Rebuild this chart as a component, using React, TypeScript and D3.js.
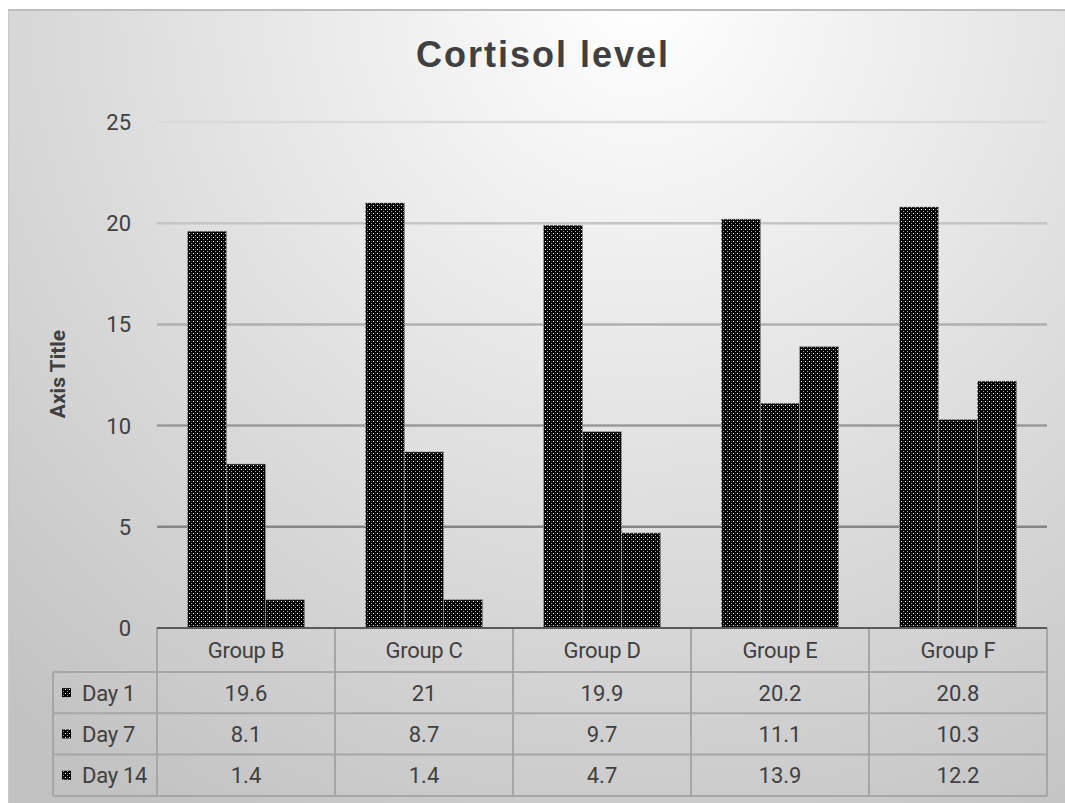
import { useEffect, useRef } from "react";
import * as d3 from "d3";

const groups = ["Group B", "Group C", "Group D", "Group E", "Group F"];
const series = ["Day 1", "Day 7", "Day 14"];
const day1 = [19.6, 21, 19.9, 20.2, 20.8];
const day7 = [8.1, 8.7, 9.7, 11.1, 10.3];
const day14 = [1.4, 1.4, 4.7, 13.9, 12.2];
const yTicks = [0, 5, 10, 15, 20, 25];

const W = 1065;
const H = 803;

const App = () => {
    const svgRef = useRef<SVGSVGElement>(null);

    useEffect(() => {
        if (!svgRef.current) return;
        const svg = d3.select(svgRef.current);
        svg.selectAll("*").remove();

        const values = [day1, day7, day14];
        const font = "Roboto, 'Liberation Sans', sans-serif";
        const textColor = "#404040";

        // plot area (page coords)
        const left = 157, right = 1047, top = 122, bottom = 628;
        const rowH = 41.3;
        const headerH = 44;

        const y = d3.scaleLinear().domain([0, 25]).range([bottom, top]);
        const x = d3.scaleBand().domain(groups).range([left, right]).padding(0);
        const inner = d3.scaleBand().domain(series).range([0, x.bandwidth()]).paddingInner(0).paddingOuter(0.78);

        const defs = svg.append("defs");

        // background gradient
        const bg = defs.append("radialGradient")
            .attr("id", "bg")
            .attr("gradientUnits", "userSpaceOnUse")
            .attr("cx", 640).attr("cy", 0).attr("r", 950);
        bg.append("stop").attr("offset", "0%").attr("stop-color", "#ffffff");
        bg.append("stop").attr("offset", "100%").attr("stop-color", "#c2c2c2");

        // gridline gradient
        const gg = defs.append("linearGradient")
            .attr("id", "grid")
            .attr("gradientUnits", "userSpaceOnUse")
            .attr("x1", 0).attr("x2", 0).attr("y1", top).attr("y2", bottom);
        gg.append("stop").attr("offset", "0%").attr("stop-color", "#dadada");
        gg.append("stop").attr("offset", "100%").attr("stop-color", "#707070");

        // bar pattern
        const pat = defs.append("pattern")
            .attr("id", "dots")
            .attr("patternUnits", "userSpaceOnUse")
            .attr("width", 4).attr("height", 4);
        pat.append("rect").attr("width", 4).attr("height", 4).attr("fill", "#000");
        pat.append("rect").attr("x", 1).attr("y", 1).attr("width", 1).attr("height", 1).attr("fill", "#ffffff");
        pat.append("rect").attr("x", 3).attr("y", 3).attr("width", 1).attr("height", 1).attr("fill", "#9a9a9a");
        pat.append("rect").attr("x", 3).attr("y", 1).attr("width", 1).attr("height", 1).attr("fill", "#3a3a3a");

        // chart background
        svg.append("rect")
            .attr("x", 8).attr("y", 9)
            .attr("width", W - 8).attr("height", H - 9)
            .attr("fill", "url(#bg)");
        svg.append("line")
            .attr("x1", 8).attr("x2", W).attr("y1", 10).attr("y2", 10)
            .attr("stroke", "#bdbdbd").attr("stroke-width", 2);
        svg.append("line")
            .attr("x1", 8.5).attr("x2", 8.5).attr("y1", 9).attr("y2", H)
            .attr("stroke", "#c8c8c8").attr("stroke-width", 1);

        // title
        svg.append("text")
            .attr("x", 543)
            .attr("y", 67)
            .attr("text-anchor", "middle")
            .attr("font-family", "'Liberation Sans', Arial, sans-serif")
            .attr("font-weight", "bold")
            .attr("font-size", 36)
            .attr("letter-spacing", 2)
            .attr("fill", textColor)
            .text("Cortisol level");

        // axis title
        svg.append("text")
            .attr("transform", `translate(65,374) rotate(-90)`)
            .attr("text-anchor", "middle")
            .attr("font-family", font)
            .attr("font-weight", "bold")
            .attr("font-size", 21)
            .attr("fill", textColor)
            .text("Axis Title");

        // gridlines + tick labels
        yTicks.forEach((t) => {
            if (t > 0) {
                svg.append("line")
                    .attr("x1", left).attr("x2", right)
                    .attr("y1", y(t)).attr("y2", y(t))
                    .attr("stroke", "url(#grid)")
                    .attr("stroke-width", 2.5);
            }
            svg.append("text")
                .attr("x", 131)
                .attr("y", y(t))
                .attr("dy", "0.36em")
                .attr("text-anchor", "end")
                .attr("font-family", font)
                .attr("font-size", 22)
                .attr("fill", textColor)
                .text(t);
        });

        // bars
        series.forEach((s, si) => {
            svg.append("g")
                .selectAll("rect")
                .data(groups)
                .enter()
                .append("rect")
                .attr("x", (g) => (x(g) as number) + (inner(s) as number))
                .attr("y", (g, gi) => y(values[si][gi]))
                .attr("width", inner.bandwidth())
                .attr("height", (g, gi) => bottom - y(values[si][gi]))
                .attr("fill", "url(#dots)")
                .attr("stroke", "#a0a0a0")
                .attr("stroke-width", 1)
                .attr("stroke-dasharray", "1 1");
        });

        // data table
        const tableBottom = bottom + headerH + rowH * 3;
        const labelLeft = 53;
        const border = "#a6a6a6";
        const tg = svg.append("g");

        // horizontal lines
        tg.append("line")
            .attr("x1", left).attr("x2", right)
            .attr("y1", bottom + headerH).attr("y2", bottom + headerH)
            .attr("stroke", border).attr("stroke-width", 2);
        [1, 2, 3].forEach((i) => {
            tg.append("line")
                .attr("x1", labelLeft).attr("x2", right)
                .attr("y1", bottom + headerH + rowH * i).attr("y2", bottom + headerH + rowH * i)
                .attr("stroke", border).attr("stroke-width", 2);
        });
        tg.append("line")
            .attr("x1", labelLeft).attr("x2", left)
            .attr("y1", bottom + headerH).attr("y2", bottom + headerH)
            .attr("stroke", border).attr("stroke-width", 2);

        // vertical lines
        tg.append("line")
            .attr("x1", labelLeft).attr("x2", labelLeft)
            .attr("y1", bottom + headerH).attr("y2", tableBottom)
            .attr("stroke", border).attr("stroke-width", 2);
        groups.forEach((g, i) => {
            const xx = x(g) as number;
            tg.append("line")
                .attr("x1", xx).attr("x2", xx)
                .attr("y1", bottom).attr("y2", tableBottom)
                .attr("stroke", border).attr("stroke-width", 2);
            if (i === groups.length - 1) {
                tg.append("line")
                    .attr("x1", right).attr("x2", right)
                    .attr("y1", bottom).attr("y2", tableBottom)
                    .attr("stroke", border).attr("stroke-width", 2);
            }
        });

        // axis baseline
        svg.append("line")
            .attr("x1", left).attr("x2", right)
            .attr("y1", bottom).attr("y2", bottom)
            .attr("stroke", "#5a5a5a").attr("stroke-width", 2);

        // header labels
        groups.forEach((g) => {
            tg.append("text")
                .attr("x", (x(g) as number) + x.bandwidth() / 2)
                .attr("y", bottom + headerH / 2)
                .attr("dy", "0.36em")
                .attr("text-anchor", "middle")
                .attr("font-family", font)
                .attr("font-size", 22)
                .attr("letter-spacing", -0.3)
                .attr("fill", textColor)
                .text(g);
        });

        // rows
        series.forEach((s, si) => {
            const cy = bottom + headerH + rowH * si + rowH / 2;
            tg.append("rect")
                .attr("x", 62).attr("y", cy - 4.5)
                .attr("width", 9).attr("height", 9)
                .attr("fill", "url(#dots)");
            tg.append("text")
                .attr("x", 82)
                .attr("y", cy)
                .attr("dy", "0.36em")
                .attr("font-family", font)
                .attr("font-size", 22)
                .attr("letter-spacing", -0.3)
                .attr("fill", textColor)
                .text(s);
            groups.forEach((g, gi) => {
                tg.append("text")
                    .attr("x", (x(g) as number) + x.bandwidth() / 2)
                    .attr("y", cy)
                    .attr("dy", "0.36em")
                    .attr("text-anchor", "middle")
                    .attr("font-family", font)
                    .attr("font-size", 22)
                    .attr("fill", textColor)
                    .text(values[si][gi]);
            });
        });
    }, []);

    return (
        <svg
            ref={svgRef}
            width={W}
            height={H}
            style={{ position: "absolute", left: 0, top: 0, display: "block" }}
        />
    );
};

export default App;
